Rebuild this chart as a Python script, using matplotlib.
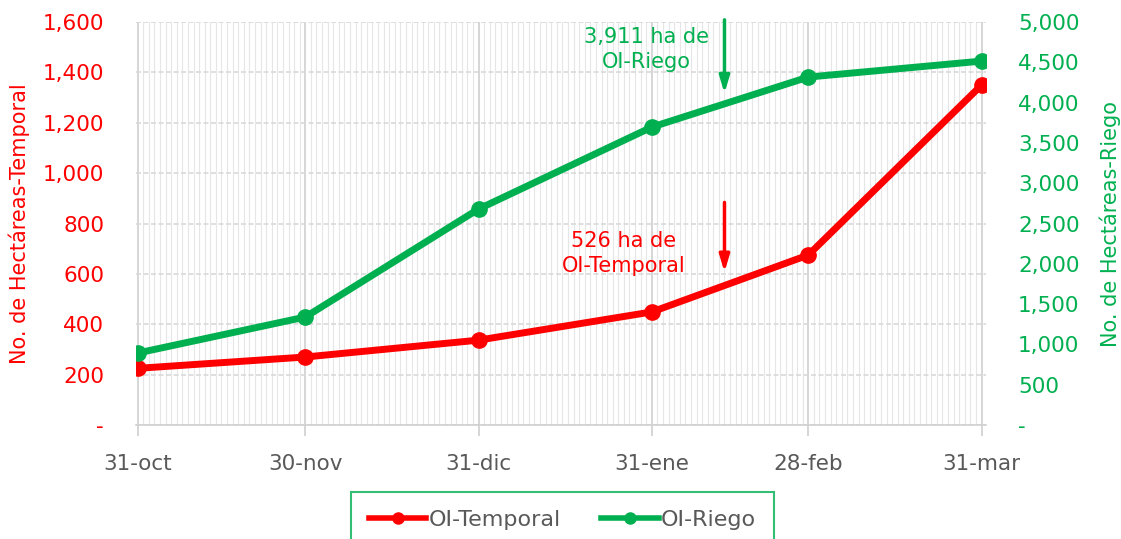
import datetime as dt
import matplotlib.pyplot as plt
import matplotlib.dates as mdates
from matplotlib.ticker import FuncFormatter, MultipleLocator

# fechas de corte y hectareas acumuladas
fechas = [dt.date(2020, 10, 31), dt.date(2020, 11, 30), dt.date(2020, 12, 31),
          dt.date(2021, 1, 31), dt.date(2021, 2, 28), dt.date(2021, 3, 31)]
etiquetas = ["31-oct", "30-nov", "31-dic", "31-ene", "28-feb", "31-mar"]
temporal = [225, 270, 337, 449, 675, 1350]
riego = [893, 1340, 2680, 3697, 4318, 4516]

ROJO = "#FF0000"
VERDE = "#00B050"
GRIS = "#595959"

plt.rcParams['font.family'] = ['DejaVu Sans']

fig = plt.figure(figsize=(11.21, 5.39), dpi=100)
ax = fig.add_axes([0.1213, 0.2115, 0.7583, 0.7475])
ax2 = ax.twinx()

x = mdates.date2num(fechas)

ax.plot(x, temporal, color=ROJO, lw=5, marker='o', ms=11, label="OI-Temporal", zorder=5)
ax2.plot(x, riego, color=VERDE, lw=5, marker='o', ms=11, label="OI-Riego", zorder=5)

ax.set_xlim(x[0] - 0.3, x[-1] + 0.8)
ax.set_ylim(0, 1600)
ax2.set_ylim(0, 5000)

# grid: dias (menor) y fechas de corte (mayor)
ax.set_xticks(x)
ax.set_xticklabels(etiquetas)
ax.xaxis.set_minor_locator(mdates.DayLocator())
ax.grid(axis='x', which='minor', color='#E6E6E6', lw=0.8)
ax.grid(axis='x', which='major', color='#D0D0D0', lw=1.2)
ax.yaxis.set_major_locator(MultipleLocator(200))
ax.grid(axis='y', which='major', color='#D9D9D9', lw=1.2, ls=(0, (3, 1.5)))
ax.set_axisbelow(True)

fmt = FuncFormatter(lambda v, p: "-" if v == 0 else f"{v:,.0f}")
ax.yaxis.set_major_formatter(fmt)
ax2.yaxis.set_major_locator(MultipleLocator(500))
ax2.yaxis.set_major_formatter(fmt)

ax.tick_params(axis='y', colors=ROJO, labelsize=15.5, length=0, pad=23)
ax2.tick_params(axis='y', colors=VERDE, labelsize=15.5, length=0, pad=23)
ax.tick_params(axis='x', which='major', colors='#D0D0D0', labelcolor=GRIS,
               labelsize=15.5, length=8, width=1.2, pad=13)
ax.tick_params(axis='x', which='minor', length=0)

for s in ['top', 'left', 'right']:
    ax.spines[s].set_visible(False)
    ax2.spines[s].set_visible(False)
ax.spines['bottom'].set_color('#D0D0D0')
ax.spines['bottom'].set_linewidth(1.2)
ax2.spines['bottom'].set_visible(False)

ax.set_ylabel("No. de Hectáreas-Temporal", color=ROJO, fontsize=15, labelpad=9)
ax2.set_ylabel("No. de Hectáreas-Riego", color=VERDE, fontsize=15, labelpad=14)

# anotaciones
xf = mdates.date2num(dt.date(2021, 2, 13))
ax.annotate("", xy=(xf, 1306), xytext=(xf, 1620), annotation_clip=False,
            arrowprops=dict(arrowstyle='-|>,head_width=0.3,head_length=1.0',
                            color=VERDE, lw=2.5))
ax.text(mdates.date2num(dt.date(2021, 1, 30)), 1490, "3,911 ha de\nOI-Riego",
        color=VERDE, fontsize=15, ha='center', va='center', linespacing=1.3)
ax.annotate("", xy=(xf, 596), xytext=(xf, 895),
            arrowprops=dict(arrowstyle='-|>,head_width=0.3,head_length=1.0',
                            color=ROJO, lw=2.5))
ax.text(mdates.date2num(dt.date(2021, 1, 26)), 682, "526 ha de\nOI-Temporal",
        color=ROJO, fontsize=15, ha='center', va='center', linespacing=1.3)

h1, l1 = ax.get_legend_handles_labels()
h2, l2 = ax2.get_legend_handles_labels()
leg = fig.legend(h1 + h2, l1 + l2, loc='upper center', bbox_to_anchor=(0.5017, 0.087),
                 ncol=2, fontsize=16, frameon=True, fancybox=False,
                 handlelength=2.6, handletextpad=0.1, columnspacing=1.8,
                 borderpad=0.8, borderaxespad=0)
leg.get_frame().set_edgecolor(VERDE)
leg.get_frame().set_linewidth(1.5)
for t in leg.get_texts():
    t.set_color(GRIS)
for h in leg.legend_handles:
    h.set_markersize(8)
    h.set_linewidth(4)

fig.savefig("out.png", dpi=100)
